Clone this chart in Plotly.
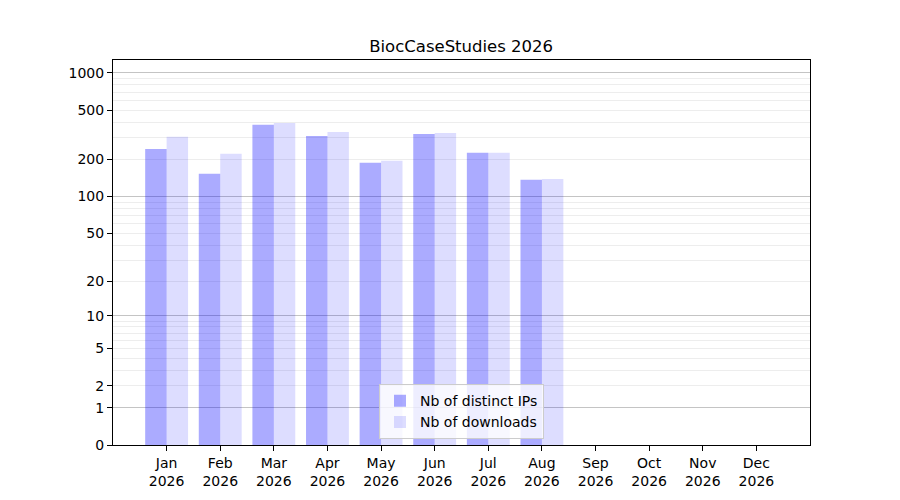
import plotly.graph_objects as go

# monthly stats
months = ['Jan', 'Feb', 'Mar', 'Apr', 'May', 'Jun',
          'Jul', 'Aug', 'Sep', 'Oct', 'Nov', 'Dec']
year = '2026'
nb_ips = [243, 153, 381, 310, 188, 322, 226, 137]
nb_downloads = [305, 222, 395, 334, 195, 328, 226, 139]

tick_values = [0, 1, 2, 5, 10, 20, 50, 100, 200, 500, 1000]
major_grid = [1, 10, 100, 1000]
minor_grid = [v * m for m in (1, 10, 100) for v in range(2, 10)]

labels = ['{}<br>{}'.format(m, year) for m in months]


def shift(values):
    # the y axis is log10(1 + n), so plot n + 1 on a log axis
    return [v + 1 for v in values]


font = dict(family='DejaVu Sans', size=14, color='#000000')

fig = go.Figure()
fig.add_trace(go.Bar(
    x=list(range(len(nb_ips))),
    y=shift(nb_ips),
    name='Nb of distinct IPs',
    marker=dict(color='rgba(0,0,255,0.33)', line=dict(width=0)),
))
fig.add_trace(go.Bar(
    x=list(range(len(nb_downloads))),
    y=shift(nb_downloads),
    name='Nb of downloads',
    marker=dict(color='rgba(0,0,255,0.135)', line=dict(width=0)),
))

top = 3.105
fig.update_layout(
    width=900,
    height=500,
    margin=dict(l=105, r=98, t=52, b=63),
    paper_bgcolor='white',
    plot_bgcolor='white',
    font=font,
    barmode='group',
    bargap=0.2,
    bargroupgap=0,
    title=dict(text='BiocCaseStudies 2026', x=0.5035, xanchor='center',
               y=1 - 38 / 500, yanchor='middle',
               font=dict(family='DejaVu Sans', size=16.5, color='#000000')),
    xaxis=dict(
        tickmode='array',
        tickvals=list(range(len(months))),
        ticktext=labels,
        range=[-1, 12],
        showgrid=False,
        zeroline=False,
        showline=True,
        linecolor='black',
        linewidth=1,
        mirror=True,
        ticks='outside',
        ticklen=5,
        tickcolor='black',
    ),
    yaxis=dict(
        type='log',
        range=[0, top],
        tickmode='array',
        tickvals=shift(tick_values),
        ticktext=[str(v) for v in tick_values],
        showgrid=False,
        zeroline=False,
        showline=True,
        linecolor='black',
        linewidth=1,
        mirror=True,
        ticks='outside',
        ticklen=5,
        tickcolor='black',
        minor=dict(tickmode='array', tickvals=shift(minor_grid), ticks='',
                   showgrid=True, gridcolor='#ededed', gridwidth=1),
    ),
    yaxis2=dict(
        type='log',
        range=[0, top],
        overlaying='y',
        tickmode='array',
        tickvals=shift(major_grid),
        showticklabels=False,
        ticks='',
        showgrid=True,
        gridcolor='#c4c4c4',
        gridwidth=1,
        zeroline=False,
        showline=False,
    ),
    legend=dict(
        x=0.5, xanchor='center', y=0.015, yanchor='bottom',
        bgcolor='rgba(255,255,255,0.8)',
        bordercolor='#cccccc', borderwidth=1,
        font=font,
    ),
)

# invisible trace so the overlaid axis is drawn
fig.add_trace(go.Scatter(x=[0], y=[1], yaxis='y2', mode='markers',
                         marker=dict(opacity=0), showlegend=False,
                         hoverinfo='skip'))

fig.write_html('out.html')
